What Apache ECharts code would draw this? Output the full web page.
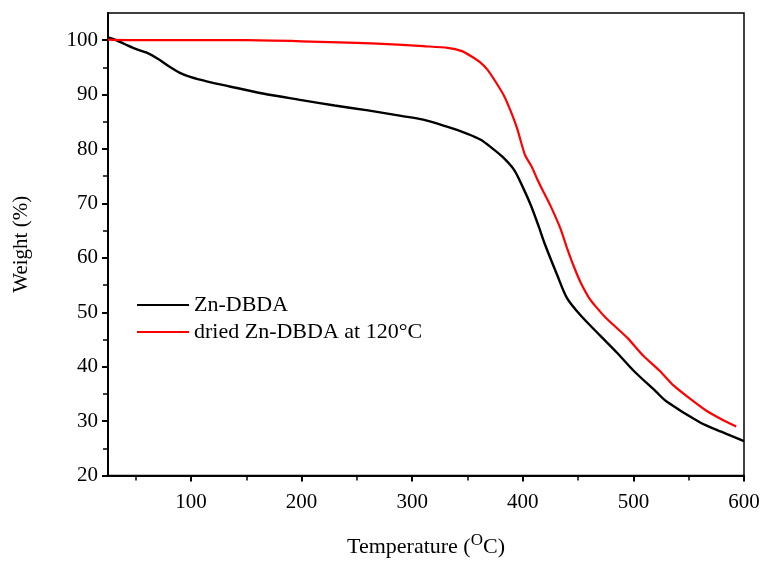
<!DOCTYPE html>
<html><head><meta charset="utf-8">
<script src="https://cdn.jsdelivr.net/npm/echarts@6/dist/echarts.min.js"></script>
<style>html,body{margin:0;padding:0;background:#fff}#c{width:766px;height:563px}</style>
</head><body><div id="c"></div>
<script>
const seriesNames = ['Zn-DBDA', 'dried Zn-DBDA at 120\u00B0C'];
const blackT = [25,30,40,50,60,70,80,90,100,115,135,165,200,230,260,290,310,330,350,362,372,382,392,400,407,414,420,431,440,452,470,485,500,520,530,560,580,600];
const blackW = [100.5,100.2,99.3,98.4,97.7,96.6,95.2,94.0,93.2,92.4,91.5,90.2,89.0,88.0,87.1,86.1,85.4,84.2,82.8,81.7,80.2,78.5,76.2,73.0,69.8,66.0,62.5,56.9,52.6,49.5,45.7,42.6,39.3,35.5,33.6,29.8,28.0,26.3];
const redT = [25,50,100,150,200,250,287,310,332,345,353,361,368,375,383,389,395,402,408,413,419,425,434,440,446,452,460,467,475,485,495,509,524,536,550,566,580,593];
const redW = [100.1,100.0,100.0,100.0,99.8,99.5,99.2,98.9,98.6,98.0,97.1,96.0,94.6,92.5,89.8,87.0,83.7,78.9,76.8,74.5,72.0,69.6,65.4,61.8,58.5,55.6,52.6,50.8,49.0,47.1,45.2,42.0,39.2,36.6,34.3,31.9,30.3,29.0];
const xMajor = [100,200,300,400,500,600];
const xMinor = [50,150,250,350,450,550];
const yMajor = [20,30,40,50,60,70,80,90,100];
const yMinor = [25,35,45,55,65,75,85,95];

const font = 'Liberation Serif';
const chart = echarts.init(document.getElementById('c'), null, {renderer:'canvas'});
const zip = (a,b) => a.map((v,i)=>[v,b[i]]);
const grid = {left:108, right:22, top:13, bottom:85, show:true, borderColor:'#000', borderWidth:1.5, backgroundColor:'transparent'};
const baseX = {type:'value', min:25, max:600, gridIndex:0, position:'bottom', splitLine:{show:false}};
const baseY = {type:'value', min:20, max:105, gridIndex:0, position:'left', splitLine:{show:false}};
chart.setOption({
  animation:false,
  grid: grid,
  legend: {
    orient:'vertical', left:132, top:289, itemWidth:52, itemHeight:2, itemGap:5,
    icon:'rect',
    textStyle:{fontFamily:font, fontSize:22, color:'#000', padding:[0,0,0,0]},
    data: seriesNames
  },
  xAxis: [
    Object.assign({}, baseX, {
      name:'Temperature ({s|O}C)', nameLocation:'middle', nameGap:57,
      nameTextStyle:{fontFamily:font, fontSize:22, color:'#000', rich:{s:{fontFamily:font, fontSize:17, verticalAlign:'bottom', padding:[0,0,12,0], color:'#000'}}},
      axisLine:{show:true, onZero:false, lineStyle:{color:'#000', width:2}},
      axisTick:{show:true, inside:false, length:6, lineStyle:{color:'#000', width:2}, customValues:xMajor},
      axisLabel:{show:true, margin:16, fontFamily:font, fontSize:21, color:'#000', customValues:xMajor}
    }),
    Object.assign({}, baseX, {
      axisLine:{show:false},
      axisTick:{show:true, inside:false, length:5, lineStyle:{color:'#000', width:1.5}, customValues:xMinor},
      axisLabel:{show:false}
    })
  ],
  yAxis: [
    Object.assign({}, baseY, {
      name:'Weight (%)', nameLocation:'middle', nameGap:76, nameRotate:90,
      nameTextStyle:{fontFamily:font, fontSize:21, color:'#000'},
      axisLine:{show:true, onZero:false, lineStyle:{color:'#000', width:2}},
      axisTick:{show:true, inside:false, length:6, lineStyle:{color:'#000', width:2}, customValues:yMajor},
      axisLabel:{show:true, margin:10, fontFamily:font, fontSize:21, color:'#000', customValues:yMajor}
    }),
    Object.assign({}, baseY, {
      axisLine:{show:false},
      axisTick:{show:true, inside:false, length:5, lineStyle:{color:'#000', width:1.5}, customValues:yMinor},
      axisLabel:{show:false}
    })
  ],
  series: [
    {name:seriesNames[0], type:'line', xAxisIndex:0, yAxisIndex:0, data:zip(blackT,blackW), showSymbol:false, smooth:0.3,
     lineStyle:{color:'#000', width:2.4}, itemStyle:{color:'#000'}},
    {name:seriesNames[1], type:'line', xAxisIndex:0, yAxisIndex:0, data:zip(redT,redW), showSymbol:false, smooth:0.2,
     lineStyle:{color:'#ff0000', width:2.2}, itemStyle:{color:'#ff0000'}}
  ]
});
</script></body></html>
